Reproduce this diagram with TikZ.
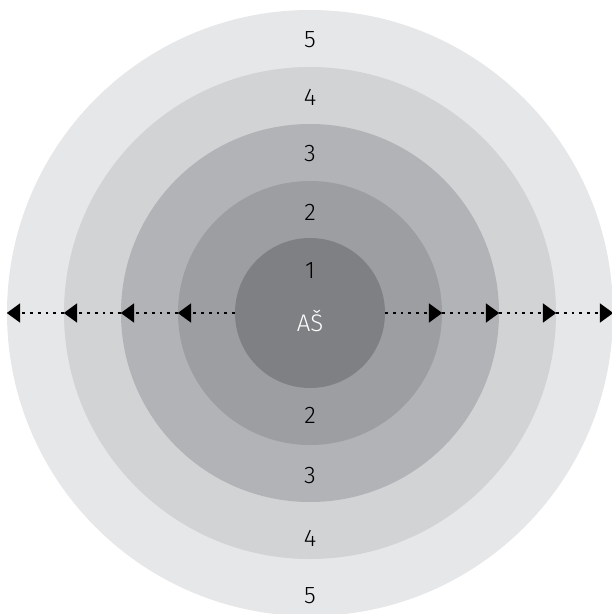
\documentclass[tikz,border=0pt]{standalone}
\usepackage{fontspec}
\setmainfont{Fira Sans Light}
\usetikzlibrary{arrows.meta}
\definecolor{ringA}{HTML}{7F8083}
\definecolor{ringB}{HTML}{9C9EA1}
\definecolor{ringC}{HTML}{B1B3B6}
\definecolor{ringD}{HTML}{D1D3D4}
\definecolor{ringE}{HTML}{E6E7E8}
\tikzset{
  ring/.style={circle,inner sep=0pt,minimum size=#1},
  lvl/.style={font=\fontsize{18}{20}\selectfont,text=black,inner sep=0.75pt},
  dotarrow/.style={line width=2pt,dash pattern=on 2pt off 3.8pt,
    -{Triangle[length=10pt,width=14pt,sep=0pt]}},
}
\begin{document}
\begin{tikzpicture}[x=0.75pt,y=0.75pt,yscale=-1,xscale=1]
    \useasboundingbox (0,0) rectangle (611,614);
    \node [ring=454.5pt,fill=ringE] (c5) at (310,313) {};
    \node [ring=369pt,fill=ringD] (c4) at (310,313) {};
    \node [ring=283.5pt,fill=ringC] (c3) at (310,313) {};
    \node [ring=198pt,fill=ringB] (c2) at (310,313) {};
    \node [ring=112.5pt,fill=ringA] (c1) at (310,313) {};
    % left arrows
    \draw [dotarrow] (c1.west) -- (c2.west) ;
    \draw [dotarrow] (c2.west) -- (c3.west) ;
    \draw [dotarrow] (c3.west) -- (c4.west) ;
    \draw [dotarrow] (c4.west) -- (c5.west) ;
    % right arrows
    \draw [dotarrow] (c1.east) -- (c2.east) ;
    \draw [dotarrow] (c2.east) -- (c3.east) ;
    \draw [dotarrow] (c3.east) -- (c4.east) ;
    \draw [dotarrow] (c4.east) -- (c5.east) ;
    % labels
    \node [lvl] (t5) at (310,40) {5};
    \node [lvl] (t4) at (310,97) {4};
    \node [lvl] (t3) at (310,154) {3};
    \node [lvl] (t2) at (310,212) {2};
    \node [lvl] (t1) at (310,271) {1};
    \node [lvl,text=white] (as) at (310,321) {AŠ};
    \node [lvl] (b2) at (310,415) {2};
    \node [lvl] (b3) at (310,476) {3};
    \node [lvl] (b4) at (310,538) {4};
    \node [lvl] (b5) at (310,596) {5};
\end{tikzpicture}
\end{document}
